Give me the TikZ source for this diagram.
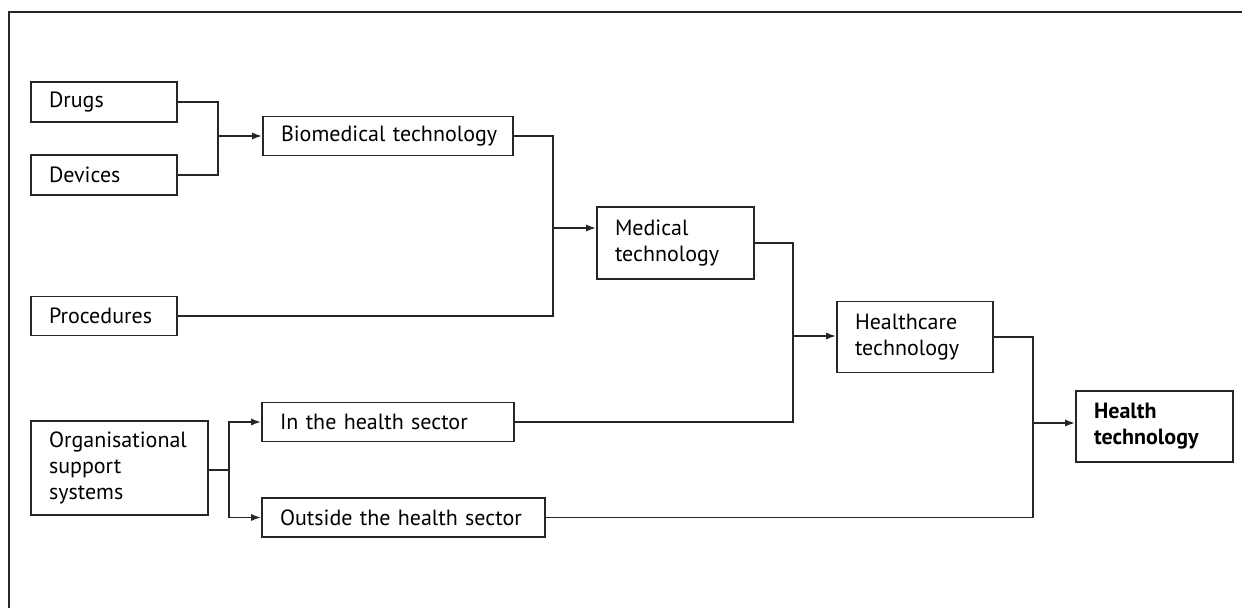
\documentclass[tikz,border=0pt]{standalone}
\usepackage{fontspec}
\setmainfont{PT Sans}
\usetikzlibrary{arrows.meta}
\tikzset{
	box/.style={draw=black!85, line width=0.9pt, inner xsep=9pt, inner ysep=0pt, align=left, font=\fontsize{11}{13}\selectfont},
	link/.style={draw=black!85, line width=0.9pt},
	arr/.style={link, -{Latex[length=5pt,width=3.6pt]}}
}

\begin{document}
\begin{tikzpicture}[x=0.5pt, y=-0.5pt]
			%%%%% START %%%%%
			\useasboundingbox (0, 0) rectangle (1242, 608);
			
			\draw[line width=1pt, color=black!85] (1242, 12) -- (9, 12) -- (9, 608);
			
			\node[box, text width=55pt, minimum height=20pt] (drugs) at (104, 102) {Drugs};
			\node[box, text width=55pt, minimum height=20pt] (devices) at (104, 175) {Devices};
			\node[box, text width=55pt, minimum height=19.5pt] (procs) at (104, 316) {Procedures};
			\node[box, text width=70.5pt, minimum height=47pt] (org) at (119.5, 468) {Organisational\\support\\systems};
			
			\node[box, text width=107pt, minimum height=19.5pt] (biomed) at (388, 136) {\mbox{Biomedical technology}};
			\node[box, text width=108pt, minimum height=19.5pt] (insec) at (388, 422) {In the health sector};
			\node[box, text width=123.5pt, minimum height=19.5pt] (outsec) at (403.5, 517.5) {Outside the health sector};
			
			\node[box, text width=60.5pt, minimum height=36pt] (medtech) at (675.5, 243) {Medical\\technology};
			\node[box, text width=60pt, minimum height=35.5pt] (hctech) at (915, 337) {Healthcare\\technology};
			\node[box, text width=60.5pt, minimum height=35.5pt, font=\fontsize{11}{13}\selectfont\bfseries] (healthtech) at (1154.5, 426.5) {Health\\technology};
			
			\coordinate (jdrug) at (218, 136);
			\coordinate (jbio) at (553, 228);
			\coordinate (jmed) at (793, 336);
			\coordinate (jhc) at (1033, 423);
			\coordinate (jorg) at (229, 470);
			
			\draw[link] (drugs.east) -| (jdrug) |- (devices.east);
			\draw[arr] (jdrug) -- (biomed.west);
			
			\draw[link] (biomed.east) -| (jbio) |- (procs.east);
			\draw[arr] (jbio) -- (medtech.west |- jbio);
			
			\draw[link] (medtech.east) -| (jmed) |- (insec.east);
			\draw[arr] (jmed) -- (hctech.west |- jmed);
			
			\draw[link] (hctech.east) -| (jhc) |- (outsec.east);
			\draw[arr] (jhc) -- (healthtech.west |- jhc);
			
			\draw[link] (org.east |- jorg) -- (jorg);
			\draw[arr] (jorg) |- (insec.west);
			\draw[arr] (jorg) |- (outsec.west);
			
			%%%%% END %%%%%
\end{tikzpicture}
\end{document}
